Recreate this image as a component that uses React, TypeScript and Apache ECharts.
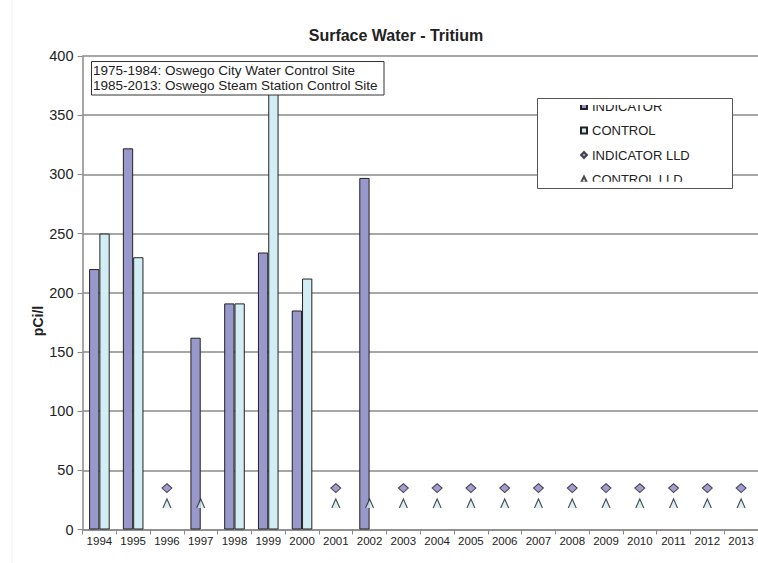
import React, { useEffect, useRef } from "react";
import * as echarts from "echarts";

const years = ["1994","1995","1996","1997","1998","1999","2000","2001","2002","2003","2004","2005","2006","2007","2008","2009","2010","2011","2012","2013"];
const indicator = [220, 322, null, 162, 191, 234, 185, null, 297, null, null, null, null, null, null, null, null, null, null, null];
const control = [250, 230, null, null, 191, 370, 212, null, null, null, null, null, null, null, null, null, null, null, null, null];
const indicatorLLD = [null, null, 35, null, null, null, null, 35, null, 35, 35, 35, 35, 35, 35, 35, 35, 35, 35, 35];
const controlLLD = [null, null, 22, 22, null, null, null, 22, 22, 22, 22, 22, 22, 22, 22, 22, 22, 22, 22, 22];
const yTicks = { min: 0, max: 400, interval: 50 };
const noteLines = ["1975-1984: Oswego City Water Control Site", "1985-2013: Oswego Steam Station Control Site"];

const NARROW = "'Liberation Sans Narrow', 'Arial Narrow', 'Liberation Sans', Arial, sans-serif";
const SANS = "'Liberation Sans', Arial, sans-serif";
const IND_COLOR = "#9898cb";
const CTL_COLOR = "#d2eef4";
const CARET = "path://M0,10 L5,0 L10,10";

const toScatter = (a: (number | null)[]) => a.map((v) => (v == null ? "-" : v));

export default function App() {
  const ref = useRef<HTMLDivElement>(null);
  useEffect(() => {
    document.body.style.margin = "0";
    if (!ref.current) return;
    const chart = echarts.init(ref.current, undefined, { renderer: "svg" });
    chart.setOption({
      animation: false,
      backgroundColor: "#ffffff",
      title: {
        text: "Surface Water - Tritium",
        left: 396,
        top: 27,
        padding: 0,
        textAlign: "center",
        textStyle: { fontFamily: NARROW, fontSize: 16, fontWeight: "bold", color: "#222" },
      },
      legend: {
        orient: "vertical",
        left: 580,
        top: 99,
        padding: 0,
        itemWidth: 6,
        itemHeight: 6,
        itemGap: 10.5,
        textStyle: { fontFamily: NARROW, fontSize: 13, color: "#222", lineHeight: 14 },
        data: [
          { name: "INDICATOR", icon: "rect" },
          { name: "CONTROL", icon: "rect" },
          { name: "INDICATOR LLD", icon: "diamond" },
          { name: "CONTROL LLD", icon: "triangle" },
        ],
      },
      grid: { left: 82.5, right: -3.2, top: 56, bottom: 33.5, containLabel: false },
      xAxis: {
        type: "category",
        data: years,
        axisLine: { lineStyle: { color: "#8a8a8a", width: 1.5 } },
        axisTick: { show: true, interval: 0, length: 5, lineStyle: { color: "#8a8a8a" } },
        axisLabel: { interval: 0, fontFamily: NARROW, fontSize: 11.5, color: "#222", margin: 5 },
      },
      yAxis: {
        type: "value",
        min: yTicks.min,
        max: yTicks.max,
        interval: yTicks.interval,
        axisLine: { show: true, lineStyle: { color: "#8a8a8a", width: 1.5 } },
        axisTick: { show: true, length: 5, lineStyle: { color: "#8a8a8a" } },
        axisLabel: { fontFamily: NARROW, fontSize: 14.5, color: "#222", margin: 9 },
        splitLine: { show: true, lineStyle: { color: "#8a8a8a", width: 1.5 } },
      },
      series: [
        {
          name: "INDICATOR",
          type: "bar",
          data: indicator,
          barGap: "0%",
          barCategoryGap: "39%",
          itemStyle: { color: IND_COLOR, borderColor: "#222", borderWidth: 1 },
          z: 2,
        },
        {
          name: "CONTROL",
          type: "bar",
          data: control,
          barGap: "0%",
          barCategoryGap: "39%",
          itemStyle: { color: CTL_COLOR, borderColor: "#222", borderWidth: 1 },
          z: 2,
        },
        {
          name: "INDICATOR LLD",
          type: "scatter",
          data: toScatter(indicatorLLD),
          symbol: "diamond",
          symbolSize: [10, 9],
          itemStyle: { color: "#8a84c8", borderColor: "#222", borderWidth: 1 },
          z: 3,
        },
        {
          name: "CONTROL LLD",
          type: "scatter",
          data: toScatter(controlLLD),
          symbol: CARET,
          symbolSize: [8, 9],
          itemStyle: { color: CTL_COLOR, borderColor: "#222", borderWidth: 1.2 },
          z: 3,
        },
      ],
      graphic: [
        { type: "line", z: 1, shape: { x1: 12, y1: 0, x2: 12, y2: 563 }, style: { stroke: "#eeeeee", lineWidth: 1 } },
        {
          type: "text",
          z: 5,
          x: 38,
          y: 321,
          rotation: Math.PI / 2,
          style: { text: "pCi/l", fontFamily: NARROW, fontSize: 14, fontWeight: "bold", fill: "#222", align: "center", verticalAlign: "middle" },
        },
        {
          type: "rect",
          z: 3,
          shape: { x: 91.5, y: 61.5, width: 292.5, height: 33.5 },
          style: { fill: "#ffffff", stroke: "#333", lineWidth: 1 },
        },
        {
          type: "text",
          z: 4,
          x: 93,
          y: 63.5,
          style: { text: noteLines.join("\n"), fontFamily: SANS, fontSize: 13.5, lineHeight: 14.5, fill: "#222", align: "left", verticalAlign: "top" },
        },
        {
          type: "rect",
          z: 3,
          shape: { x: 537.5, y: 98.5, width: 195, height: 90 },
          style: { fill: "#ffffff", stroke: "#555", lineWidth: 1 },
        },
        {
          type: "rect",
          z: 6,
          shape: { x: 539, y: 99.2, width: 192, height: 5.8 },
          style: { fill: "#ffffff" },
        },
        {
          type: "rect",
          z: 6,
          shape: { x: 539, y: 181.8, width: 192, height: 6 },
          style: { fill: "#ffffff" },
        },
      ],
    });
    return () => chart.dispose();
  }, []);
  return <div ref={ref} style={{ position: "fixed", left: 0, top: 0, width: 758, height: 563 }} />;
}
